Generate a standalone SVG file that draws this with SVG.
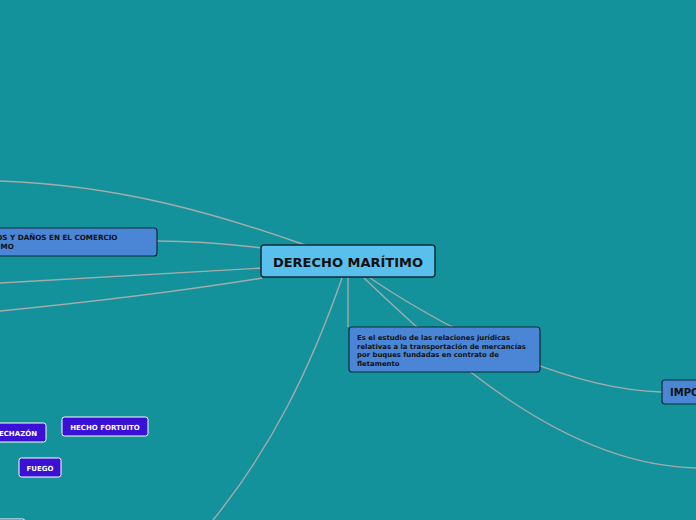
<svg xmlns="http://www.w3.org/2000/svg" width="696" height="520" viewBox="0 0 696 520">
<style>
.bg{fill:#13929b}
.c{fill:none;stroke:#a3abab;stroke-width:1.4}
.main{fill:#59bfed;stroke:#0d2b36;stroke-width:1.5}
.sub{fill:#4a86d5;stroke:#0d2b36;stroke-width:1.2}
.leaf{fill:#3a10d6;stroke:#ffffff;stroke-width:1}
.t{font-family:"DejaVu Sans",Verdana,sans-serif;font-weight:bold;fill:#111}
.w{font-family:"DejaVu Sans",Verdana,sans-serif;font-weight:bold;fill:#ffffff;font-size:7px;text-anchor:middle}
</style>
<rect class="bg" x="0" y="0" width="696" height="520"/>
<g id="connectors">
<path class="c" d="M305,245 C220,215 120,185 0,181"/>
<path class="c" d="M262,248 C220,243 190,241 157,241"/>
<path class="c" d="M262,268 C170,274 80,279 0,283"/>
<path class="c" d="M262,278 C170,293 80,303 0,311"/>
<path class="c" d="M342,278 C310,370 270,450 213,520"/>
<path class="c" d="M348,278 L348,327"/>
<path class="c" d="M364,278 C440,350 560,465 696,468"/>
<path class="c" d="M370,278 C470,345 580,390 662,392"/>
</g>
<g id="n-main">
<rect class="main" x="261" y="245" width="174" height="32" rx="3"/>
<text class="t" x="348" y="266.5" font-size="13" text-anchor="middle">DERECHO MARÍTIMO</text>
</g>
<g id="n-riesgos">
<rect class="sub" x="-6" y="228" width="163" height="28" rx="3"/>
<text class="t" font-size="7.2" x="-28" y="240">RIESGOS Y DAÑOS EN EL COMERCIO</text>
<text class="t" font-size="7.2" x="-28" y="249">MARÍTIMO</text>
</g>
<g id="n-def">
<rect class="sub" x="349" y="327" width="191" height="45" rx="3"/>
<text class="t" font-size="6.9" x="357" y="340">Es el estudio de las relaciones jurídicas</text>
<text class="t" font-size="6.9" x="357" y="348.5">relativas a la transportación de mercancías</text>
<text class="t" font-size="6.9" x="357" y="357">por buques fundadas en contrato de</text>
<text class="t" font-size="6.9" x="357" y="365.5">fletamento</text>
</g>
<g id="n-importancia">
<rect class="sub" x="662" y="380" width="60" height="24" rx="3"/>
<text class="t" font-size="10" x="670" y="396">IMPORTANCIA</text>
</g>
<g id="n-echazon">
<rect class="leaf" x="-10" y="423" width="56" height="19" rx="2.5"/>
<text class="w" x="18" y="435.5">ECHAZÓN</text>
</g>
<g id="n-hecho">
<rect class="leaf" x="62" y="417" width="86" height="19" rx="2.5"/>
<text class="w" x="105" y="429.5">HECHO FORTUITO</text>
</g>
<g id="n-fuego">
<rect class="leaf" x="19" y="458" width="42" height="19" rx="2.5"/>
<text class="w" x="40" y="470.5">FUEGO</text>
</g>
<g id="n-bottom">
<rect class="leaf" x="-30" y="519" width="55" height="19" rx="2.5"/>
</g>
</svg>
